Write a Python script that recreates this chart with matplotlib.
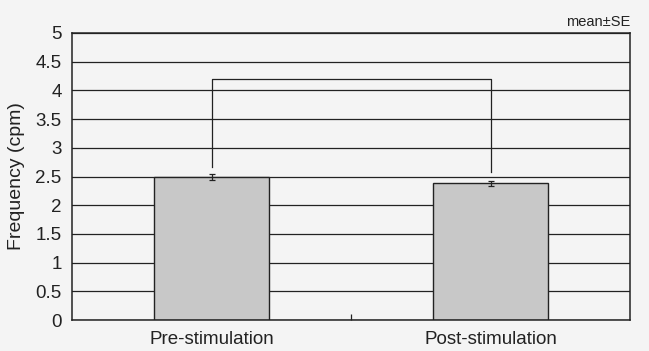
import numpy as np
import matplotlib.pyplot as plt

plt.rcParams['font.family'] = ['Liberation Sans', 'DejaVu Sans']

# data
categories = ['Pre-stimulation', 'Post-stimulation']
means = [2.49, 2.38]
se = [0.05, 0.05]
# significance bracket: top level and where each leg stops
bracket_top = 4.2
bracket_legs = [2.66, 2.58]
yticks = [0, 0.5, 1, 1.5, 2, 2.5, 3, 3.5, 4, 4.5, 5]
yticklabels = ['0', '0.5', '1', '1.5', '2', '2.5', '3', '3.5', '4', '4.5', '5']

bg = '#f4f4f4'
fig = plt.figure(figsize=(6.49, 3.51), dpi=100, facecolor=bg)
ax = fig.add_axes([0.111, 0.088, 0.86, 0.818], facecolor=bg)

x = np.arange(len(categories))

# horizontal grid lines behind the bars
for yv in yticks:
    ax.axhline(yv, color='#222222', lw=0.9, zorder=1)

ax.bar(x, means, width=0.41, color='#c8c8c8', edgecolor='#222222',
       linewidth=1.0, zorder=2)
ax.errorbar(x, means, yerr=se, fmt='none', ecolor='#222222',
            elinewidth=0.9, capsize=2.5, capthick=0.9, zorder=3)

# bracket between the two bars
ax.plot([x[0], x[0], x[1], x[1]],
        [bracket_legs[0], bracket_top, bracket_top, bracket_legs[1]],
        color='#222222', lw=0.9, zorder=3)

ax.set_xlim(-0.5, 1.5)
ax.set_ylim(0, 5)
ax.set_yticks(yticks)
ax.set_yticklabels(yticklabels, fontsize=13.5, color='#222222')
ax.tick_params(axis='y', length=0, pad=7.5)

# category labels, with one small tick between the categories
ax.set_xticks(x)
ax.set_xticklabels(categories, fontsize=13.5, color='#222222')
ax.tick_params(axis='x', length=0, pad=8)
ax.set_xticks([0.5], minor=True)
ax.tick_params(axis='x', which='minor', direction='in', length=4,
               width=0.9, color='#222222')

for s in ax.spines.values():
    s.set_color('#222222')
    s.set_linewidth(1.1)

ax.set_ylabel('Frequency (cpm)', fontsize=14, color='#222222')
ax.yaxis.set_label_coords(-0.085, 0.5)
ax.text(1.0, 1.015, 'mean\u00b1SE', transform=ax.transAxes, ha='right',
        va='bottom', fontsize=10.5, color='#222222')

fig.savefig('out.png', dpi=100, facecolor=bg)
